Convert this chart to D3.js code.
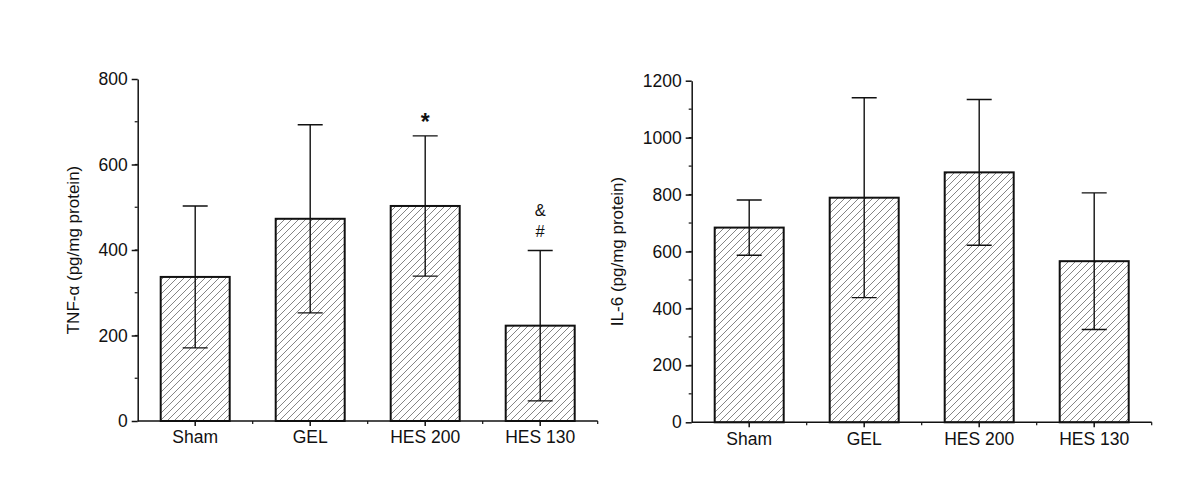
<!DOCTYPE html>
<html lang="en">
<head>
  <meta charset="UTF-8">
  <title>TNF-α and IL-6 by group</title>
  <style>
    body { margin: 0; background: #fff; }
    svg { font-family: "Liberation Sans", Arial, sans-serif; }
    .bar { fill: url(#hatch); stroke: #111; stroke-width: 2px; }
    .err { stroke: #111; stroke-width: 1.4px; fill: none; }
    .axis path, .axis line { stroke: #111; stroke-width: 1.5px; }
  </style>
  <script src="https://d3js.org/d3.v7.min.js"></script>
</head>
<body>
<div id="chart"></div>
<script>
  // Groups and values
  var groups = ["Sham", "GEL", "HES 200", "HES 130"];

  var tnfMean = [337, 473, 503, 223];
  var tnfErr  = [166, 220, 164, 176];
  var tnfMarks = ["", "", "*", "&\n#"];

  var il6Mean = [684, 789, 878, 566];
  var il6Err  = [97, 351, 256, 240];

  var tnfTicks = [0, 200, 400, 600, 800];
  var il6Ticks = [0, 200, 400, 600, 800, 1000, 1200];

  var width = 1200, height = 495;
  var fontSize = 17.5;

  var svg = d3.select("#chart").append("svg")
    .attr("width", width)
    .attr("height", height);

  // Diagonal hatching used for every bar
  var pat = svg.append("defs").append("pattern")
    .attr("id", "hatch")
    .attr("patternUnits", "userSpaceOnUse")
    .attr("width", 7)
    .attr("height", 7);
  pat.append("rect").attr("width", 7).attr("height", 7).attr("fill", "#fff");
  pat.append("path")
    .attr("d", "M-1,1 L1,-1 M0,7 L7,0 M6,8 L8,6")
    .attr("stroke", "#666")
    .attr("stroke-width", 0.8);

  function drawPanel(opts) {
    var g = svg.append("g");

    var x = d3.scaleBand()
      .domain(groups)
      .range([opts.left, opts.left + 460])
      .paddingInner(0.4)
      .paddingOuter(0.2);

    var y = d3.scaleLinear()
      .domain([0, opts.max])
      .range([opts.bottom, opts.top]);

    // minor y ticks
    var minor = d3.range(opts.minorStep, opts.max, opts.minorStep);
    g.append("g")
      .selectAll("line")
      .data(minor)
      .enter().append("line")
      .attr("x1", opts.left - 3)
      .attr("x2", opts.left)
      .attr("y1", d => y(d))
      .attr("y2", d => y(d))
      .attr("stroke", "#111")
      .attr("stroke-width", 1.2);

    // minor x ticks at category boundaries
    var step = x.step();
    g.append("g")
      .selectAll("line")
      .data(d3.range(1, groups.length + 1))
      .enter().append("line")
      .attr("x1", i => opts.left + i * step)
      .attr("x2", i => opts.left + i * step)
      .attr("y1", opts.bottom)
      .attr("y2", opts.bottom + 3)
      .attr("stroke", "#111")
      .attr("stroke-width", 1.2);

    // bars
    g.append("g")
      .selectAll("rect")
      .data(groups)
      .enter().append("rect")
      .attr("class", "bar")
      .attr("x", d => x(d))
      .attr("width", x.bandwidth())
      .attr("y", (d, i) => y(opts.mean[i]))
      .attr("height", (d, i) => y(0) - y(opts.mean[i]));

    // error bars (both directions, through the bar)
    var cap = 12.5;
    g.append("g").selectAll("path")
      .data(groups)
      .enter().append("path")
      .attr("class", "err")
      .attr("d", (d, i) => {
        var cx = x(d) + x.bandwidth() / 2;
        var hi = y(opts.mean[i] + opts.err[i]);
        var lo = y(opts.mean[i] - opts.err[i]);
        return "M" + cx + "," + hi + "V" + lo +
          "M" + (cx - cap) + "," + hi + "H" + (cx + cap) +
          "M" + (cx - cap) + "," + lo + "H" + (cx + cap);
      });

    // axes
    var xAxis = g.append("g")
      .attr("class", "axis")
      .attr("transform", "translate(0," + opts.bottom + ")")
      .call(d3.axisBottom(x).tickSizeInner(5).tickSizeOuter(0).tickPadding(5));
    xAxis.select(".domain").attr("d", "M" + opts.left + ",0H" + (opts.left + 460));

    g.append("g")
      .attr("class", "axis")
      .attr("transform", "translate(" + opts.left + ",0)")
      .call(d3.axisLeft(y).tickValues(opts.ticks).tickFormat(d3.format("d"))
        .tickSizeInner(6).tickSizeOuter(0).tickPadding(4));

    g.selectAll(".axis text")
      .attr("font-size", fontSize)
      .attr("font-family", "Liberation Sans, Arial, sans-serif")
      .attr("fill", "#111");

    // y title
    g.append("text")
      .attr("transform", "translate(" + opts.titleX + "," + ((opts.top + opts.bottom) / 2) + ") rotate(-90)")
      .attr("text-anchor", "middle")
      .attr("font-size", 17)
      .attr("fill", "#111")
      .text(opts.title);

    // significance marks
    if (opts.marks) {
      groups.forEach((d, i) => {
        if (!opts.marks[i]) return;
        var cx = x(d) + x.bandwidth() / 2;
        var top = y(opts.mean[i] + opts.err[i]);
        var lines = opts.marks[i].split("\n");
        lines.forEach((s, j) => {
          g.append("text")
            .attr("x", cx)
            .attr("y", top - 13 - (lines.length - 1 - j) * 21)
            .attr("text-anchor", "middle")
            .attr("font-size", s === "*" ? 23 : 16.5)
            .attr("font-weight", s === "*" ? "bold" : "normal")
            .attr("dy", s === "*" ? "0.3em" : "0")
            .attr("fill", "#111")
            .text(s);
        });
      });
    }
  }

  drawPanel({
    left: 137.7, top: 79, bottom: 421, max: 800, minorStep: 100,
    ticks: tnfTicks, mean: tnfMean, err: tnfErr, marks: tnfMarks,
    title: "TNF-α (pg/mg protein)", titleX: 79
  });

  drawPanel({
    left: 691.7, top: 80.7, bottom: 422.3, max: 1200, minorStep: 100,
    ticks: il6Ticks, mean: il6Mean, err: il6Err, marks: null,
    title: "IL-6 (pg/mg protein)", titleX: 623
  });
</script>
</body>
</html>
